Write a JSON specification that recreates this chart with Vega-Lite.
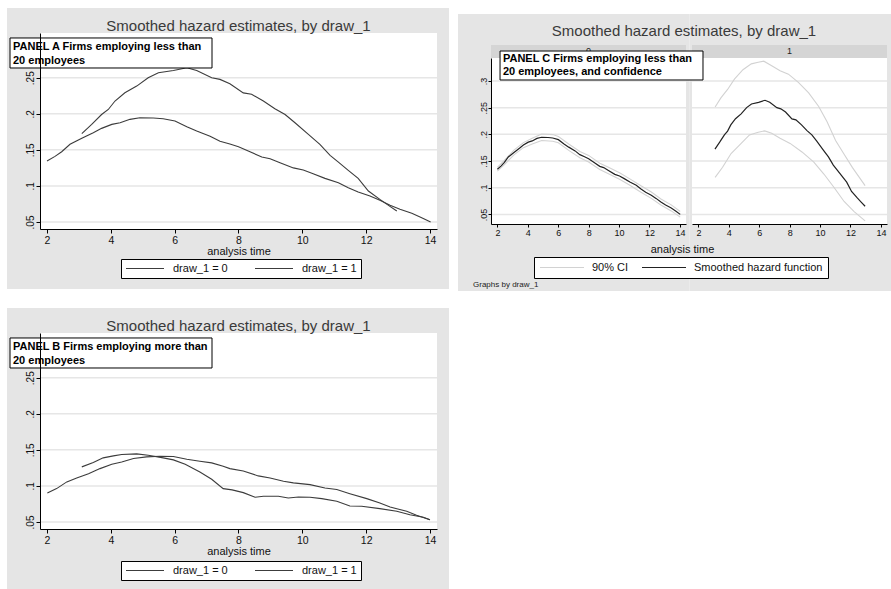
{
"$schema": "https://vega.github.io/schema/vega-lite/v6.json",
"background": "white",
"padding": {"left": 7, "top": 7, "right": 0, "bottom": 0},
"config": {
  "font": "Liberation Sans",
  "view": {"stroke": null},
  "axis": {"grid": false, "domainColor": "#000", "tickColor": "#000", "labelColor": "#111", "titleColor": "#111", "titleFontWeight": "normal", "labelFlush": false, "labelOverlap": false, "domainWidth": 1, "tickWidth": 1},
  "title": {"fontSize": 15, "fontWeight": "normal", "color": "#3a3a3a", "baseline": "alphabetic"},
  "legend": {"orient": "none", "direction": "horizontal", "symbolType": "stroke", "fillColor": "#ffffff", "strokeColor": "#000000", "labelColor": "#111", "labelFontSize": 11, "padding": 4, "clipHeight": 11, "columns": 2}
},
"datasets": {
  "A": [
    {"g":"draw_1 = 0","t":2.0,"h":0.1345},{"g":"draw_1 = 0","t":2.25,"h":0.141},{"g":"draw_1 = 0","t":2.46,"h":0.1474},{"g":"draw_1 = 0","t":2.72,"h":0.1577},{"g":"draw_1 = 0","t":3.09,"h":0.166},{"g":"draw_1 = 0","t":3.45,"h":0.1738},{"g":"draw_1 = 0","t":3.71,"h":0.1798},{"g":"draw_1 = 0","t":4.03,"h":0.1853},{"g":"draw_1 = 0","t":4.29,"h":0.1876},{"g":"draw_1 = 0","t":4.6,"h":0.1923},{"g":"draw_1 = 0","t":4.91,"h":0.1945},{"g":"draw_1 = 0","t":5.33,"h":0.1941},{"g":"draw_1 = 0","t":5.64,"h":0.1931},{"g":"draw_1 = 0","t":6.01,"h":0.19},{"g":"draw_1 = 0","t":6.38,"h":0.182},{"g":"draw_1 = 0","t":6.69,"h":0.176},{"g":"draw_1 = 0","t":7.11,"h":0.169},{"g":"draw_1 = 0","t":7.42,"h":0.162},{"g":"draw_1 = 0","t":7.73,"h":0.158},{"g":"draw_1 = 0","t":8.0,"h":0.1543},{"g":"draw_1 = 0","t":8.36,"h":0.1474},{"g":"draw_1 = 0","t":8.73,"h":0.14},{"g":"draw_1 = 0","t":8.99,"h":0.1377},{"g":"draw_1 = 0","t":9.3,"h":0.1322},{"g":"draw_1 = 0","t":9.72,"h":0.125},{"g":"draw_1 = 0","t":10.03,"h":0.122},{"g":"draw_1 = 0","t":10.34,"h":0.117},{"g":"draw_1 = 0","t":10.71,"h":0.1105},{"g":"draw_1 = 0","t":11.13,"h":0.1045},{"g":"draw_1 = 0","t":11.44,"h":0.0975},{"g":"draw_1 = 0","t":11.75,"h":0.0916},{"g":"draw_1 = 0","t":12.12,"h":0.086},{"g":"draw_1 = 0","t":12.43,"h":0.08},{"g":"draw_1 = 0","t":12.75,"h":0.0731},{"g":"draw_1 = 0","t":13.06,"h":0.0676},{"g":"draw_1 = 0","t":13.43,"h":0.062},{"g":"draw_1 = 0","t":13.74,"h":0.056},{"g":"draw_1 = 0","t":14.02,"h":0.05},
    {"g":"draw_1 = 1","t":3.09,"h":0.1724},{"g":"draw_1 = 1","t":3.4,"h":0.1853},{"g":"draw_1 = 1","t":3.71,"h":0.199},{"g":"draw_1 = 1","t":3.92,"h":0.206},{"g":"draw_1 = 1","t":4.13,"h":0.2177},{"g":"draw_1 = 1","t":4.44,"h":0.2292},{"g":"draw_1 = 1","t":4.81,"h":0.2384},{"g":"draw_1 = 1","t":5.17,"h":0.25},{"g":"draw_1 = 1","t":5.49,"h":0.2569},{"g":"draw_1 = 1","t":5.96,"h":0.26},{"g":"draw_1 = 1","t":6.38,"h":0.2638},{"g":"draw_1 = 1","t":6.69,"h":0.26},{"g":"draw_1 = 1","t":7.16,"h":0.25},{"g":"draw_1 = 1","t":7.42,"h":0.2477},{"g":"draw_1 = 1","t":7.73,"h":0.2417},{"g":"draw_1 = 1","t":8.15,"h":0.229},{"g":"draw_1 = 1","t":8.41,"h":0.227},{"g":"draw_1 = 1","t":8.78,"h":0.2177},{"g":"draw_1 = 1","t":9.14,"h":0.207},{"g":"draw_1 = 1","t":9.46,"h":0.199},{"g":"draw_1 = 1","t":9.77,"h":0.1876},{"g":"draw_1 = 1","t":10.19,"h":0.1715},{"g":"draw_1 = 1","t":10.55,"h":0.1577},{"g":"draw_1 = 1","t":10.87,"h":0.1424},{"g":"draw_1 = 1","t":11.13,"h":0.1331},{"g":"draw_1 = 1","t":11.44,"h":0.1216},{"g":"draw_1 = 1","t":11.75,"h":0.1105},{"g":"draw_1 = 1","t":12.07,"h":0.093},{"g":"draw_1 = 1","t":12.43,"h":0.0814},{"g":"draw_1 = 1","t":12.7,"h":0.0731},{"g":"draw_1 = 1","t":12.96,"h":0.0652}
  ],
  "B": [
    {"g":"draw_1 = 0","t":2.01,"h":0.0903},{"g":"draw_1 = 0","t":2.3,"h":0.0963},{"g":"draw_1 = 0","t":2.62,"h":0.1056},{"g":"draw_1 = 0","t":2.93,"h":0.111},{"g":"draw_1 = 0","t":3.3,"h":0.117},{"g":"draw_1 = 0","t":3.66,"h":0.124},{"g":"draw_1 = 0","t":4.03,"h":0.13},{"g":"draw_1 = 0","t":4.34,"h":0.1333},{"g":"draw_1 = 0","t":4.71,"h":0.138},{"g":"draw_1 = 0","t":5.12,"h":0.1403},{"g":"draw_1 = 0","t":5.54,"h":0.1412},{"g":"draw_1 = 0","t":5.96,"h":0.1407},{"g":"draw_1 = 0","t":6.38,"h":0.1371},{"g":"draw_1 = 0","t":6.79,"h":0.1343},{"g":"draw_1 = 0","t":7.16,"h":0.132},{"g":"draw_1 = 0","t":7.52,"h":0.1273},{"g":"draw_1 = 0","t":7.73,"h":0.124},{"g":"draw_1 = 0","t":8.15,"h":0.1208},{"g":"draw_1 = 0","t":8.62,"h":0.1139},{"g":"draw_1 = 0","t":8.99,"h":0.111},{"g":"draw_1 = 0","t":9.41,"h":0.1065},{"g":"draw_1 = 0","t":9.72,"h":0.1042},{"g":"draw_1 = 0","t":10.24,"h":0.1018},{"g":"draw_1 = 0","t":10.71,"h":0.0972},{"g":"draw_1 = 0","t":11.08,"h":0.095},{"g":"draw_1 = 0","t":11.49,"h":0.0893},{"g":"draw_1 = 0","t":12.02,"h":0.0824},{"g":"draw_1 = 0","t":12.43,"h":0.0764},{"g":"draw_1 = 0","t":12.75,"h":0.0708},{"g":"draw_1 = 0","t":13.27,"h":0.0648},{"g":"draw_1 = 0","t":13.58,"h":0.0593},{"g":"draw_1 = 0","t":14.0,"h":0.053},
    {"g":"draw_1 = 1","t":3.09,"h":0.1264},{"g":"draw_1 = 1","t":3.45,"h":0.1324},{"g":"draw_1 = 1","t":3.76,"h":0.1389},{"g":"draw_1 = 1","t":4.08,"h":0.1417},{"g":"draw_1 = 1","t":4.34,"h":0.1435},{"g":"draw_1 = 1","t":4.81,"h":0.1444},{"g":"draw_1 = 1","t":5.17,"h":0.1426},{"g":"draw_1 = 1","t":5.64,"h":0.1389},{"g":"draw_1 = 1","t":5.96,"h":0.1361},{"g":"draw_1 = 1","t":6.33,"h":0.13},{"g":"draw_1 = 1","t":6.79,"h":0.1194},{"g":"draw_1 = 1","t":7.16,"h":0.1093},{"g":"draw_1 = 1","t":7.52,"h":0.0963},{"g":"draw_1 = 1","t":7.8,"h":0.0945},{"g":"draw_1 = 1","t":8.15,"h":0.0907},{"g":"draw_1 = 1","t":8.52,"h":0.0843},{"g":"draw_1 = 1","t":8.78,"h":0.0857},{"g":"draw_1 = 1","t":9.25,"h":0.0857},{"g":"draw_1 = 1","t":9.56,"h":0.0833},{"g":"draw_1 = 1","t":9.88,"h":0.0847},{"g":"draw_1 = 1","t":10.24,"h":0.0843},{"g":"draw_1 = 1","t":10.61,"h":0.0824},{"g":"draw_1 = 1","t":11.08,"h":0.0787},{"g":"draw_1 = 1","t":11.49,"h":0.0722},{"g":"draw_1 = 1","t":11.86,"h":0.0718},{"g":"draw_1 = 1","t":12.43,"h":0.0685},{"g":"draw_1 = 1","t":12.96,"h":0.0648},{"g":"draw_1 = 1","t":13.37,"h":0.0601},{"g":"draw_1 = 1","t":13.79,"h":0.0565},{"g":"draw_1 = 1","t":14.0,"h":0.053}
  ],
  "ci": [
    {"d":0,"b":"lo","t":2.0,"h":0.131},{"d":0,"b":"lo","t":2.46,"h":0.1435},{"d":0,"b":"lo","t":3.09,"h":0.1615},{"d":0,"b":"lo","t":3.71,"h":0.175},{"d":0,"b":"lo","t":4.29,"h":0.182},{"d":0,"b":"lo","t":4.91,"h":0.1885},{"d":0,"b":"lo","t":5.64,"h":0.187},{"d":0,"b":"lo","t":6.01,"h":0.1842},{"d":0,"b":"lo","t":6.69,"h":0.17},{"d":0,"b":"lo","t":7.42,"h":0.156},{"d":0,"b":"lo","t":8.0,"h":0.148},{"d":0,"b":"lo","t":8.73,"h":0.134},{"d":0,"b":"lo","t":9.3,"h":0.126},{"d":0,"b":"lo","t":10.03,"h":0.1158},{"d":0,"b":"lo","t":10.71,"h":0.1045},{"d":0,"b":"lo","t":11.44,"h":0.0915},{"d":0,"b":"lo","t":12.12,"h":0.08},{"d":0,"b":"lo","t":12.75,"h":0.0675},{"d":0,"b":"lo","t":13.43,"h":0.0565},{"d":0,"b":"lo","t":14.02,"h":0.0448},
    {"d":0,"b":"hi","t":2.0,"h":0.138},{"d":0,"b":"hi","t":2.46,"h":0.151},{"d":0,"b":"hi","t":3.09,"h":0.1705},{"d":0,"b":"hi","t":3.71,"h":0.1845},{"d":0,"b":"hi","t":4.29,"h":0.1928},{"d":0,"b":"hi","t":4.91,"h":0.2005},{"d":0,"b":"hi","t":5.64,"h":0.1995},{"d":0,"b":"hi","t":6.01,"h":0.1958},{"d":0,"b":"hi","t":6.69,"h":0.182},{"d":0,"b":"hi","t":7.42,"h":0.168},{"d":0,"b":"hi","t":8.0,"h":0.1605},{"d":0,"b":"hi","t":8.73,"h":0.146},{"d":0,"b":"hi","t":9.3,"h":0.1385},{"d":0,"b":"hi","t":10.03,"h":0.128},{"d":0,"b":"hi","t":10.71,"h":0.1165},{"d":0,"b":"hi","t":11.44,"h":0.1035},{"d":0,"b":"hi","t":12.12,"h":0.092},{"d":0,"b":"hi","t":12.75,"h":0.079},{"d":0,"b":"hi","t":13.43,"h":0.0678},{"d":0,"b":"hi","t":14.02,"h":0.0555},
    {"d":1,"b":"hi","t":3.1,"h":0.2511},{"d":1,"b":"hi","t":3.48,"h":0.2683},{"d":1,"b":"hi","t":3.92,"h":0.2841},{"d":1,"b":"hi","t":4.37,"h":0.3033},{"d":1,"b":"hi","t":4.93,"h":0.321},{"d":1,"b":"hi","t":5.48,"h":0.332},{"d":1,"b":"hi","t":5.93,"h":0.335},{"d":1,"b":"hi","t":6.3,"h":0.337},{"d":1,"b":"hi","t":6.82,"h":0.3285},{"d":1,"b":"hi","t":7.37,"h":0.319},{"d":1,"b":"hi","t":7.92,"h":0.3127},{"d":1,"b":"hi","t":8.59,"h":0.2968},{"d":1,"b":"hi","t":9.25,"h":0.2777},{"d":1,"b":"hi","t":9.91,"h":0.2522},{"d":1,"b":"hi","t":10.46,"h":0.2235},{"d":1,"b":"hi","t":11.02,"h":0.1886},{"d":1,"b":"hi","t":11.57,"h":0.163},{"d":1,"b":"hi","t":12.13,"h":0.1376},{"d":1,"b":"hi","t":12.96,"h":0.104},
    {"d":1,"b":"lo","t":3.1,"h":0.1193},{"d":1,"b":"lo","t":3.59,"h":0.1384},{"d":1,"b":"lo","t":4.15,"h":0.164},{"d":1,"b":"lo","t":4.7,"h":0.1798},{"d":1,"b":"lo","t":5.36,"h":0.1989},{"d":1,"b":"lo","t":5.93,"h":0.204},{"d":1,"b":"lo","t":6.36,"h":0.2065},{"d":1,"b":"lo","t":6.82,"h":0.202},{"d":1,"b":"lo","t":7.37,"h":0.1925},{"d":1,"b":"lo","t":8.03,"h":0.183},{"d":1,"b":"lo","t":8.81,"h":0.167},{"d":1,"b":"lo","t":9.59,"h":0.148},{"d":1,"b":"lo","t":10.25,"h":0.1256},{"d":1,"b":"lo","t":10.92,"h":0.1004},{"d":1,"b":"lo","t":11.58,"h":0.0742},{"d":1,"b":"lo","t":12.24,"h":0.0553},{"d":1,"b":"lo","t":12.96,"h":0.038}
  ],
  "grid": [{"v":0.05},{"v":0.1},{"v":0.15},{"v":0.2},{"v":0.25},{"v":0.3}]
},
"spacing": 8,
"resolve": {"scale": {"color": "independent"}, "legend": {"color": "independent"}},
"hconcat": [
{
  "spacing": 17,
  "resolve": {"scale": {"color": "independent"}, "legend": {"color": "independent"}},
  "vconcat": [
  {
    "width": 397, "height": 196,
    "title": {"text": "Smoothed hazard estimates, by draw_1", "frame": "group", "anchor": "middle", "offset": -26},
    "layer": [
      {"data": {"values": [{}]}, "mark": {"type": "rect", "fill": "#e5e5e5"}, "encoding": {"x": {"datum": 0.746}, "x2": {"datum": 14.596}, "y": {"datum": 0.3467}, "y2": {"datum": -0.0429}}},
      {"data": {"values": [{}]}, "mark": {"type": "rect", "fill": "#ffffff"}, "encoding": {"x": {"datum": 1.78}, "x2": {"datum": 14.22}, "y": {"datum": 0.312}, "y2": {"datum": 0.0403}}},
      {"data": {"name": "grid"}, "transform": [{"filter": "datum.v < 0.29"}], "mark": {"type": "rule", "color": "#e6e6e6", "strokeWidth": 1.5}, "encoding": {"y": {"field": "v", "type": "quantitative", "title": null}}},
      {"data": {"name": "A"}, "mark": {"type": "line", "strokeWidth": 1.1},
       "encoding": {
         "x": {"field": "t", "type": "quantitative", "title": "analysis time", "scale": {"domain": [1.78, 14.22], "nice": false, "zero": false},
               "axis": {"zindex": 1, "tickCount": 30, "format": "~g", "labelOverlap": false, "values": [2,4,6,8,10,12,14], "tickSize": 4, "labelPadding": 2, "labelFontSize": 10.5, "titleFontSize": 11, "titleY": 25, "titleBaseline": "alphabetic"}},
         "y": {"field": "h", "type": "quantitative", "title": null, "scale": {"domain": [0.0403, 0.312], "nice": false, "zero": false},
               "axis": {"zindex": 1, "tickCount": 30, "labelOverlap": false, "values": [0.05,0.1,0.15,0.2,0.25], "labelExpr": "replace(format(datum.value, '.2~f'), '0.', '.')", "tickSize": 4, "labelAngle": -90, "labelAlign": "center", "labelBaseline": "alphabetic", "labelPadding": 2.5, "labelFontSize": 10}},
         "color": {"field": "g", "type": "nominal", "scale": {"domain": ["draw_1 = 0", "draw_1 = 1"], "range": ["#3c3c3c", "#3c3c3c"]},
                   "legend": {"title": null, "legendX": 81, "legendY": 226, "symbolSize": 1444, "labelOffset": 8, "columnPadding": 26, "symbolStrokeWidth": 1.1}}
       }},
      {"data": {"values": [{}]}, "mark": {"type": "rect", "fill": "#ffffff", "stroke": "#000000", "strokeWidth": 1}, "encoding": {"x": {"datum": 0.84}, "x2": {"datum": 7.17}, "y": {"datum": 0.3051}, "y2": {"datum": 0.2635}}},
      {"data": {"values": [{}]}, "mark": {"type": "text", "text": ["PANEL A Firms employing less than", "20 employees"], "align": "left", "baseline": "alphabetic", "fontWeight": "bold", "fontSize": 11, "lineHeight": 13.5, "color": "#000000"}, "encoding": {"x": {"datum": 0.934}, "y": {"datum": 0.2884}}}
    ]
  },
  {
    "width": 397, "height": 196,
    "title": {"text": "Smoothed hazard estimates, by draw_1", "frame": "group", "anchor": "middle", "offset": -26},
    "layer": [
      {"data": {"values": [{}]}, "mark": {"type": "rect", "fill": "#e5e5e5"}, "encoding": {"x": {"datum": 0.746}, "x2": {"datum": 14.596}, "y": {"datum": 0.3467}, "y2": {"datum": -0.0429}}},
      {"data": {"values": [{}]}, "mark": {"type": "rect", "fill": "#ffffff"}, "encoding": {"x": {"datum": 1.78}, "x2": {"datum": 14.22}, "y": {"datum": 0.312}, "y2": {"datum": 0.0403}}},
      {"data": {"name": "grid"}, "transform": [{"filter": "datum.v < 0.29"}], "mark": {"type": "rule", "color": "#e6e6e6", "strokeWidth": 1.5}, "encoding": {"y": {"field": "v", "type": "quantitative", "title": null}}},
      {"data": {"name": "B"}, "mark": {"type": "line", "strokeWidth": 1.1},
       "encoding": {
         "x": {"field": "t", "type": "quantitative", "title": "analysis time", "scale": {"domain": [1.78, 14.22], "nice": false, "zero": false},
               "axis": {"zindex": 1, "tickCount": 30, "format": "~g", "labelOverlap": false, "values": [2,4,6,8,10,12,14], "tickSize": 4, "labelPadding": 2, "labelFontSize": 10.5, "titleFontSize": 11, "titleY": 25, "titleBaseline": "alphabetic"}},
         "y": {"field": "h", "type": "quantitative", "title": null, "scale": {"domain": [0.0403, 0.312], "nice": false, "zero": false},
               "axis": {"zindex": 1, "tickCount": 30, "labelOverlap": false, "values": [0.05,0.1,0.15,0.2,0.25], "labelExpr": "replace(format(datum.value, '.2~f'), '0.', '.')", "tickSize": 4, "labelAngle": -90, "labelAlign": "center", "labelBaseline": "alphabetic", "labelPadding": 2.5, "labelFontSize": 10}},
         "color": {"field": "g", "type": "nominal", "scale": {"domain": ["draw_1 = 0", "draw_1 = 1"], "range": ["#3c3c3c", "#3c3c3c"]},
                   "legend": {"title": null, "legendX": 81, "legendY": 228, "symbolSize": 1444, "labelOffset": 8, "columnPadding": 26, "symbolStrokeWidth": 1.1}}
       }},
      {"data": {"values": [{}]}, "mark": {"type": "rect", "fill": "#ffffff", "stroke": "#000000", "strokeWidth": 1}, "encoding": {"x": {"datum": 0.84}, "x2": {"datum": 7.17}, "y": {"datum": 0.3051}, "y2": {"datum": 0.2635}}},
      {"data": {"values": [{}]}, "mark": {"type": "text", "text": ["PANEL B Firms employing more than", "20 employees"], "align": "left", "baseline": "alphabetic", "fontWeight": "bold", "fontSize": 11, "lineHeight": 13.5, "color": "#000000"}, "encoding": {"x": {"datum": 0.934}, "y": {"datum": 0.2884}}}
    ]
  }
  ]
},
{
  "spacing": 24,
  "bounds": "flush",
  "resolve": {"scale": {"color": "independent"}, "legend": {"color": "independent"}},
  "vconcat": [
  {"width": 10, "height": 1, "data": {"values": [{}]}, "mark": {"type": "text", "text": ""}, "encoding": {}},
  {
  "hconcat": [
    {
      "width": 195, "height": 166,
      "layer": [
        {"data": {"values": [{}]}, "mark": {"type": "rect", "fill": "#e5e5e5"}, "encoding": {"x": {"datum": -0.59}, "x2": {"datum": 14.631}, "y": {"datum": 0.4254}, "y2": {"datum": -0.0935}}},
        {"data": {"values": [{}]}, "mark": {"type": "rect", "fill": "#ffffff"}, "encoding": {"x": {"datum": 1.58}, "x2": {"datum": 14.4}, "y": {"datum": 0.343}, "y2": {"datum": 0.032}}},
        {"data": {"values": [{}]}, "mark": {"type": "rect", "fill": "#d5d5d5"}, "encoding": {"x": {"datum": 1.58}, "x2": {"datum": 14.4}, "y": {"datum": 0.3674}, "y2": {"datum": 0.343}}},
        {"data": {"values": [{}]}, "mark": {"type": "text", "text": "0", "fontSize": 9, "color": "#222", "baseline": "middle"}, "encoding": {"x": {"datum": 7.99}, "y": {"datum": 0.3552}}},
        {"data": {"name": "grid"}, "mark": {"type": "rule", "color": "#e6e6e6", "strokeWidth": 1.5}, "encoding": {"y": {"field": "v", "type": "quantitative", "title": null}}},
        {"data": {"name": "ci"}, "transform": [{"filter": "datum.d == 0"}], "mark": {"type": "line", "strokeWidth": 1.1},
         "encoding": {
           "x": {"field": "t", "type": "quantitative", "title": null, "scale": {"domain": [1.58, 14.4], "nice": false, "zero": false},
                 "axis": {"zindex": 1, "tickCount": 30, "format": "~g", "labelOverlap": false, "values": [2,4,6,8,10,12,14], "tickSize": 3, "labelPadding": 1.5, "labelFontSize": 9}},
           "y": {"field": "h", "type": "quantitative", "title": null, "scale": {"domain": [0.032, 0.343], "nice": false, "zero": false},
                 "axis": {"zindex": 1, "tickCount": 30, "labelOverlap": false, "values": [0.05,0.1,0.15,0.2,0.25,0.3], "labelExpr": "replace(format(datum.value, '.2~f'), '0.', '.')", "tickSize": 3, "labelAngle": -90, "labelAlign": "center", "labelBaseline": "alphabetic", "labelPadding": 1.5, "labelFontSize": 9}},
           "detail": {"field": "b"},
           "color": {"datum": "90% CI", "scale": {"domain": ["90% CI", "Smoothed hazard function"], "range": ["#d2d2d2", "#222222"]},
                     "legend": {"title": null, "legendX": 43, "legendY": 199, "symbolSize": 1936, "labelOffset": 7, "columnPadding": 12, "padding": 5, "symbolStrokeWidth": 1.2}}
         }},
        {"data": {"name": "A"}, "transform": [{"filter": "datum.g == 'draw_1 = 0'"}], "mark": {"type": "line", "strokeWidth": 1.2},
         "encoding": {
           "x": {"field": "t", "type": "quantitative", "title": null},
           "y": {"field": "h", "type": "quantitative", "title": null},
           "color": {"datum": "Smoothed hazard function"}
         }},
        {"data": {"values": [{}]}, "mark": {"type": "text", "text": "Graphs by draw_1", "fontSize": 8, "align": "left", "baseline": "alphabetic", "color": "#222"}, "encoding": {"x": {"datum": 0.397}, "y": {"datum": -0.086}}}
      ]
    },
    {
      "width": 195, "height": 166,
      "layer": [
        {"data": {"values": [{}]}, "mark": {"type": "rect", "fill": "#e5e5e5"}, "encoding": {"x": {"datum": 1.416}, "x2": {"datum": 14.729}, "y": {"datum": 0.4254, "axis": null}, "y2": {"datum": -0.0935}}},
        {"data": {"values": [{}]}, "mark": {"type": "rect", "fill": "#ffffff"}, "encoding": {"x": {"datum": 1.58}, "x2": {"datum": 14.4}, "y": {"datum": 0.343, "axis": null}, "y2": {"datum": 0.032}}},
        {"data": {"values": [{}]}, "mark": {"type": "rect", "fill": "#d5d5d5"}, "encoding": {"x": {"datum": 1.58}, "x2": {"datum": 14.4}, "y": {"datum": 0.3674, "axis": null}, "y2": {"datum": 0.343}}},
        {"data": {"values": [{}]}, "mark": {"type": "text", "text": "1", "fontSize": 9, "color": "#222", "baseline": "middle"}, "encoding": {"x": {"datum": 7.99}, "y": {"datum": 0.3552, "axis": null}}},
        {"data": {"name": "grid"}, "mark": {"type": "rule", "color": "#e6e6e6", "strokeWidth": 1.5}, "encoding": {"y": {"field": "v", "type": "quantitative", "axis": null}}},
        {"data": {"name": "ci"}, "transform": [{"filter": "datum.d == 1"}], "mark": {"type": "line", "strokeWidth": 1.1},
         "encoding": {
           "x": {"field": "t", "type": "quantitative", "title": "analysis time", "scale": {"domain": [1.58, 14.4], "nice": false, "zero": false},
                 "axis": {"zindex": 1, "tickCount": 30, "format": "~g", "labelOverlap": false, "values": [2,4,6,8,10,12,14], "tickSize": 3, "labelPadding": 1.5, "labelFontSize": 9, "titleFontSize": 11, "titleX": -10, "titleY": 28, "titleBaseline": "alphabetic"}},
           "y": {"field": "h", "type": "quantitative", "axis": null, "scale": {"domain": [0.032, 0.343], "nice": false, "zero": false}},
           "detail": {"field": "b"},
           "color": {"datum": "90% CI", "scale": {"domain": ["90% CI", "Smoothed hazard function"], "range": ["#d2d2d2", "#222222"]}}
         }},
        {"data": {"name": "A"}, "transform": [{"filter": "datum.g == 'draw_1 = 1'"}], "mark": {"type": "line", "strokeWidth": 1.2},
         "encoding": {
           "x": {"field": "t", "type": "quantitative", "title": "analysis time"},
           "y": {"field": "h", "type": "quantitative", "axis": null},
           "color": {"datum": "Smoothed hazard function"}
         }},
        {"data": {"values": [{}]}, "mark": {"type": "rect", "fill": "#ffffff", "stroke": "#000000", "strokeWidth": 1}, "encoding": {"x": {"datum": -11.04}, "x2": {"datum": 2.303}, "y": {"datum": 0.3561, "axis": null}, "y2": {"datum": 0.3018}}},
        {"data": {"values": [{}]}, "mark": {"type": "text", "text": ["PANEL C Firms employing less than", "20 employees, and confidence"], "align": "left", "baseline": "alphabetic", "fontWeight": "bold", "fontSize": 11, "lineHeight": 13, "color": "#000000"}, "encoding": {"x": {"datum": -10.85}, "y": {"datum": 0.3346, "axis": null}}}
      ]
    }
  ],
  "spacing": 6,
  "bounds": "flush",
  "title": {"text": "Smoothed hazard estimates, by draw_1", "anchor": "middle", "offset": -25, "dx": 9}
  }
  ]
}
]
}
